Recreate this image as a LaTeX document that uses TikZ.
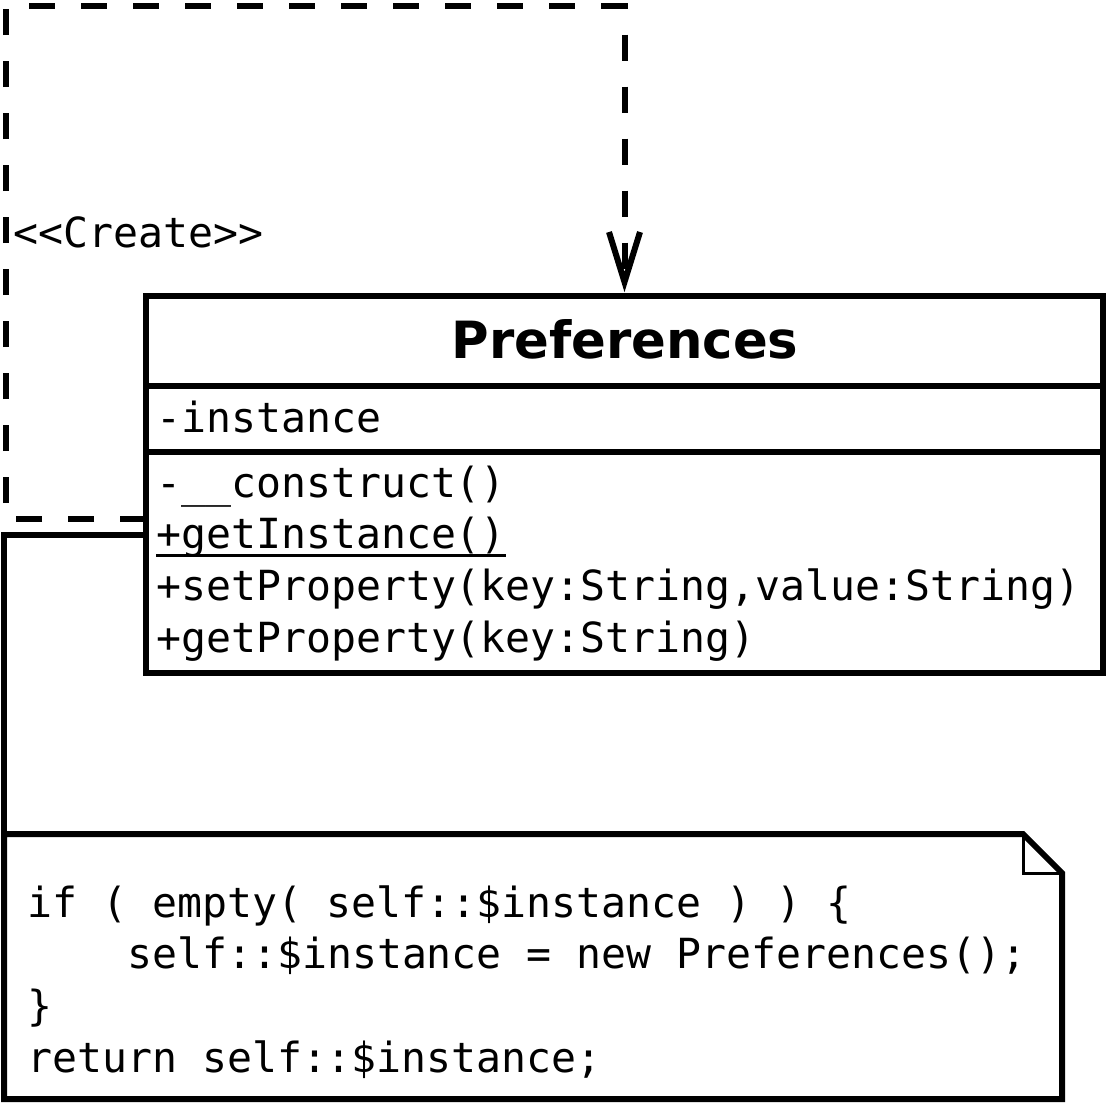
\documentclass[tikz,border=0pt]{standalone}
\usepackage{fontspec}
\setmainfont{DejaVu Sans}
\newfontfamily\monofont{DejaVu Sans Mono}
\begin{document}
\begin{tikzpicture}[x=1pt,y=-1pt,
  ln/.style={line width=6pt},
  mono/.style={font=\monofont\fontsize{41.5}{51.7}\selectfont, inner sep=0pt, anchor=base west},
  titlefont/.style={font=\bfseries\fontsize{51.3}{60}\selectfont, inner sep=0pt, anchor=base}]
\useasboundingbox (0,0) rectangle (1109,1104);

% class box
\node[draw, ln, minimum width=957pt, minimum height=377pt, inner sep=0pt, outer sep=0pt, anchor=north west] (cls) at (146,296) {};
\draw[ln] (cls.west |- 0,386) -- (cls.east |- 0,386);
\draw[ln] (cls.west |- 0,452) -- (cls.east |- 0,452);
\node[titlefont] (title) at (625,358) {Preferences};
\node[mono] (attr) at (156,432) {-instance};
\node[mono] (m1) at (156,497) {-\_\_construct()};
\node[mono] (m2) at (156,548.7) {+getInstance()};
\draw[line width=3pt] ([yshift=-7pt]m2.base west) -- ([yshift=-7pt]m2.base east);
\node[mono] (m3) at (156,600.4) {+setProperty(key:String,value:String)};
\node[mono] (m4) at (156,652) {+getProperty(key:String)};

% create dependency
\coordinate (c1) at (6,519);
\coordinate (c2) at (6,6);
\coordinate (c3) at (624.5,6);
\coordinate (tip) at (624.5,282);
\draw[ln, dash pattern=on 26pt off 26pt] (cls.west |- 0,519) -- (c1) -- (c2) -- (c3) -- (tip);
\draw[ln, miter limit=10] ([xshift=-15.5pt,yshift=50pt]tip) -- (tip) -- ([xshift=15.5pt,yshift=50pt]tip);
\node[mono] (lbl) at (13,247) {<<Create>>};

% note
\coordinate (nTL) at (4,834);
\coordinate (nF1) at (1023,834);
\coordinate (nF2) at (1062,873);
\coordinate (nBR) at (1062,1099);
\coordinate (nBL) at (4,1099);
\draw[ln, fill=white] (nTL) -- (nF1) -- (nF2) -- (nBR) -- (nBL) -- cycle;
\draw[line width=3pt] (nF1) -- (nF1 |- nF2) -- (nF2);
\node[mono] (t1) at (27,917) {if ( empty( self::\$instance ) ) \{};
\node[mono] (t2) at (127,968.7) {self::\$instance = new Preferences();};
\node[mono] (t3) at (27,1020.3) {\}};
\node[mono] (t4) at (27,1072) {return self::\$instance;};

% note link
\draw[ln] (cls.west |- 0,535) -- (nTL |- 0,535) -- (nTL);
\end{tikzpicture}
\end{document}
